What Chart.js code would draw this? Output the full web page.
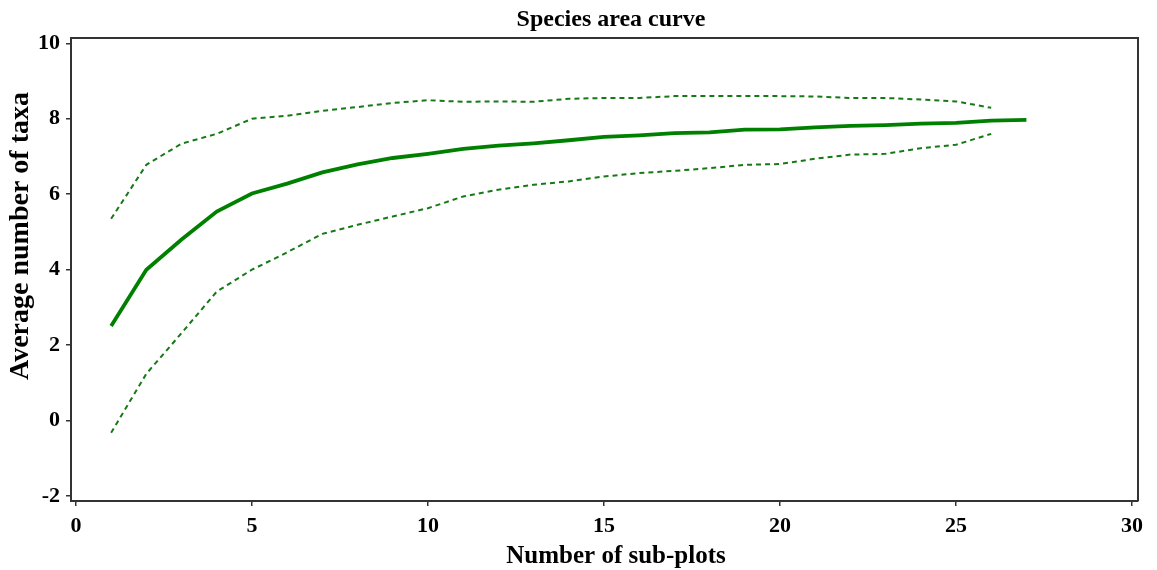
<!DOCTYPE html>
<html>
<head>
<meta charset="utf-8">
<title>Species area curve</title>
<script src="https://cdn.jsdelivr.net/npm/chart.js@4/dist/chart.umd.min.js"></script>
<style>
  html, body { margin: 0; padding: 0; background: #fff; }
  #wrap { width: 1157px; height: 570px; position: relative; }
</style>
</head>
<body>
<div id="wrap"><canvas id="speciesAreaChart"></canvas></div>
<script>
const subPlots = [1, 2, 3, 4, 5, 6, 7, 8, 9, 10, 11, 12, 13, 14, 15, 16, 17, 18, 19, 20, 21, 22, 23, 24, 25, 26, 27];
const meanTaxa = [2.51, 4.0, 4.8, 5.54, 6.02, 6.28, 6.58, 6.79, 6.96, 7.07, 7.2, 7.29, 7.35, 7.43, 7.52, 7.56, 7.62, 7.64, 7.71, 7.72, 7.77, 7.81, 7.83, 7.87, 7.89, 7.95, 7.97];
const upperTaxa = [5.35, 6.78, 7.34, 7.6, 8.0, 8.08, 8.21, 8.31, 8.42, 8.49, 8.45, 8.46, 8.45, 8.53, 8.55, 8.55, 8.6, 8.6, 8.6, 8.6, 8.59, 8.55, 8.55, 8.51, 8.46, 8.29];
const lowerTaxa = [-0.32, 1.24, 2.32, 3.42, 4.0, 4.46, 4.95, 5.19, 5.41, 5.63, 5.94, 6.12, 6.25, 6.34, 6.47, 6.56, 6.62, 6.69, 6.78, 6.8, 6.94, 7.05, 7.07, 7.22, 7.31, 7.6];
const xTicks = [0, 5, 10, 15, 20, 25, 30];
const yTicks = [-2, 0, 2, 4, 6, 8, 10];

const toPoints = (ys) => ys.map((y, i) => ({ x: subPlots[i], y: y }));

const serif = "'Liberation Serif', 'Times New Roman', serif";
const axisColor = "#333333";

// frame on top/right, plus the three titles (they sit off-centre in the original)
const framePlugin = {
  id: "frame",
  afterDraw(chart) {
    const { ctx, chartArea } = chart;
    ctx.save();
    ctx.strokeStyle = axisColor;
    ctx.lineWidth = 2;
    ctx.beginPath();
    ctx.moveTo(chartArea.left, chartArea.top);
    ctx.lineTo(chartArea.right, chartArea.top);
    ctx.lineTo(chartArea.right, chartArea.bottom);
    ctx.stroke();

    ctx.fillStyle = "#000";
    ctx.textAlign = "center";
    ctx.textBaseline = "middle";
    ctx.font = "bold 24px " + serif;
    ctx.fillText("Species area curve", 611, 20);

    ctx.font = "bold 25px " + serif;
    ctx.fillText("Number of sub-plots", 616, 557);

    ctx.translate(21, 236);
    ctx.rotate(-Math.PI / 2);
    ctx.font = "bold 28px " + serif;
    ctx.fillText("Average number of taxa", 0, 0);
    ctx.restore();
  },
};

const config = {
  type: "line",
  data: {
    datasets: [
      {
        label: "Mean",
        data: toPoints(meanTaxa),
        borderColor: "#008000",
        borderWidth: 3.8,
        pointRadius: 0,
        tension: 0,
      },
      {
        label: "Upper",
        data: toPoints(upperTaxa),
        borderColor: "#157a15",
        borderWidth: 2,
        borderDash: [5, 4],
        pointRadius: 0,
        tension: 0,
      },
      {
        label: "Lower",
        data: toPoints(lowerTaxa),
        borderColor: "#157a15",
        borderWidth: 2,
        borderDash: [5, 4],
        pointRadius: 0,
        tension: 0,
      },
    ],
  },
  options: {
    responsive: true,
    maintainAspectRatio: false,
    animation: false,
    layout: {
      padding: { top: 38, right: 19, left: 0, bottom: 0 },
    },
    scales: {
      x: {
        type: "linear",
        min: -0.14,
        max: 30.17,
        afterFit: (scale) => { scale.height = 69; },
        afterBuildTicks: (scale) => { scale.ticks = xTicks.map((v) => ({ value: v })); },
        ticks: {
          stepSize: 5,
          includeBounds: false,
          padding: 7,
          color: "#000",
          maxRotation: 0,
          font: { family: serif, size: 22, weight: "bold" },
        },
        grid: {
          display: true,
          drawOnChartArea: false,
          tickLength: 5,
          color: axisColor,
          lineWidth: 1.5,
        },
        border: { display: true, color: axisColor, width: 2 },
        title: { display: false },
      },
      y: {
        type: "linear",
        min: -2.13,
        max: 10.14,
        afterFit: (scale) => { scale.width = 71; },
        afterBuildTicks: (scale) => { scale.ticks = yTicks.map((v) => ({ value: v })); },
        ticks: {
          stepSize: 2,
          includeBounds: false,
          padding: 6,
          color: "#000",
          font: { family: serif, size: 22, weight: "bold" },
        },
        grid: {
          display: true,
          drawOnChartArea: false,
          tickLength: 5,
          color: axisColor,
          lineWidth: 1.5,
        },
        border: { display: true, color: axisColor, width: 2 },
        title: { display: false },
      },
    },
    plugins: {
      legend: { display: false },
      tooltip: { enabled: false },
    },
  },
  plugins: [framePlugin],
};

const speciesChart = new Chart(document.getElementById("speciesAreaChart"), config);
</script>
</body>
</html>
